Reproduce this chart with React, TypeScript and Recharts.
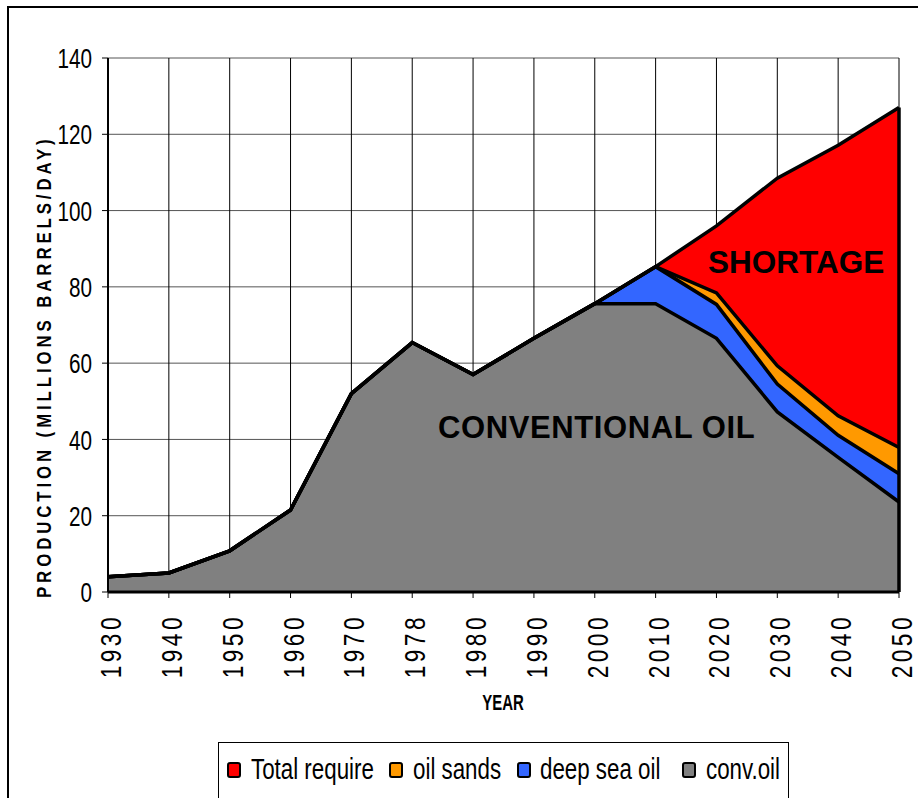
import React from 'react';
import { AreaChart, Area, XAxis, YAxis, CartesianGrid, ReferenceLine } from 'recharts';

const years = ['1930', '1940', '1950', '1960', '1970', '1978', '1980', '1990', '2000', '2010', '2020', '2030', '2040', '2050'];
const convOil = [4, 5, 10.8, 21.5, 52, 65.4, 57, 66.5, 75.6, 75.6, 66.5, 47.2, 35.3, 23.6];
const deepSeaOil = [0, 0, 0, 0, 0, 0, 0, 0, 0, 9.7, 8.9, 7.3, 5.8, 7.4];
const oilSands = [0, 0, 0, 0, 0, 0, 0, 0, 0, 0, 3, 4.8, 5.1, 6.9];
const totalRequire = [4, 5, 10.8, 21.5, 52, 65.4, 57, 66.5, 75.6, 85.3, 96, 108.5, 117.1, 127];
const yTicks = [0, 20, 40, 60, 80, 100, 120, 140];

const seriesNames = { total: 'Total require', sands: 'oil sands', deep: 'deep sea oil', conv: 'conv.oil' };
const colors = { total: '#FF0000', sands: '#FF9900', deep: '#3366FF', conv: '#808080' };
const legendOrder: Array<keyof typeof seriesNames> = ['total', 'sands', 'deep', 'conv'];
// legend layout (icon x, text x) in page pixels
const legendIconX = [227, 389, 517, 682];
const legendTextX = [251, 413, 540, 706];

const data = years.map((y, i) => ({
  year: y,
  conv: convOil[i],
  deep: deepSeaOil[i],
  sands: oilSands[i],
  total: totalRequire[i],
}));

const SANS = "'Liberation Sans', Arial, sans-serif";
const SW = 3.5;

const YTick = (props: any) => {
  const { x, y, payload } = props;
  return (
    <g transform={`translate(${x - 8}, ${y}) scale(0.74, 1)`}>
      <text x={0} y={0} dy="0.36em" textAnchor="end" fontFamily={SANS} fontSize={28} fill="#000">
        {payload.value}
      </text>
    </g>
  );
};

const XTick = (props: any) => {
  const { x, payload } = props;
  const bx = x + 13;
  const by = 614;
  return (
    <g transform={`translate(${bx}, ${by}) rotate(-90) scale(0.78, 1)`}>
      <text x={0} y={0} textAnchor="end" fontFamily={SANS} fontSize={29} letterSpacing={4.5} fill="#000">
        {payload.value}
      </text>
    </g>
  );
};

const fillArea = (key: keyof typeof colors, stack?: string) => (
  <Area
    key={`f-${key}`}
    type="linear"
    dataKey={key}
    name={seriesNames[key]}
    stackId={stack}
    fill={colors[key]}
    fillOpacity={1}
    stroke="none"
    isAnimationActive={false}
    dot={false}
    activeDot={false}
  />
);

const lineArea = (key: keyof typeof colors, stack?: string) => (
  <Area
    key={`l-${key}`}
    type="linear"
    dataKey={key}
    name={seriesNames[key]}
    stackId={stack}
    fill="none"
    fillOpacity={0}
    stroke="#000"
    strokeWidth={SW}
    strokeLinejoin="miter"
    isAnimationActive={false}
    dot={false}
    activeDot={false}
    legendType="none"
  />
);

export default function App() {
  return (
    <div style={{ position: 'relative', width: 918, height: 798, overflow: 'hidden', background: '#fff' }}>
      <style>{'body{margin:0;overflow:hidden;}'}</style>
      <div
        style={{
          position: 'absolute',
          left: 7,
          top: 6,
          width: 940,
          height: 900,
          borderTop: '2px solid #000',
          borderLeft: '2px solid #000',
          boxSizing: 'border-box',
        }}
      />
      <div style={{ position: 'absolute', left: 0, top: 0 }}>
        <AreaChart width={918} height={798} data={data} margin={{ top: 58, right: 19, left: 0, bottom: 96 }}>
          <CartesianGrid horizontal={true} vertical={false} stroke="#555" strokeWidth={1} />
          <CartesianGrid horizontal={false} vertical={true} stroke="#000" strokeWidth={1} />
          <XAxis
            dataKey="year"
            height={110}
            interval={0}
            tick={<XTick />}
            tickSize={6}
            tickLine={{ stroke: '#000', strokeWidth: 1 }}
            axisLine={{ stroke: '#000', strokeWidth: 3 }}
          />
          <YAxis
            width={108}
            domain={[0, 140]}
            ticks={yTicks}
            interval={0}
            tick={<YTick />}
            tickSize={6}
            tickLine={{ stroke: '#000', strokeWidth: 1 }}
            axisLine={{ stroke: '#000', strokeWidth: 2 }}
          />
          {fillArea('total')}
          {fillArea('conv', 'f')}
          {fillArea('deep', 'f')}
          {fillArea('sands', 'f')}
          {lineArea('total')}
          {lineArea('conv', 'l')}
          {lineArea('deep', 'l')}
          {lineArea('sands', 'l')}
          <ReferenceLine
            segment={[
              { x: years[years.length - 1], y: 0 },
              { x: years[years.length - 1], y: totalRequire[totalRequire.length - 1] },
            ]}
            stroke="#000"
            strokeWidth={SW}
          />
        </AreaChart>
      </div>
      <svg width={918} height={798} style={{ position: 'absolute', left: 0, top: 0, pointerEvents: 'none' }}>
        <g transform="translate(51, 598) rotate(-90) scale(0.8, 1)">
          <text x={0} y={0} textAnchor="start" fontFamily={SANS} fontWeight="bold" fontSize={21} letterSpacing={4.9} fill="#000">
            PRODUCTION (MILLIONS BARRELS/DAY)
          </text>
        </g>
        <g transform="translate(503, 710) scale(0.68, 1)">
          <text x={0} y={0} textAnchor="middle" fontFamily={SANS} fontWeight="bold" fontSize={22} fill="#000">
            YEAR
          </text>
        </g>
        <text x={708} y={273} fontFamily={SANS} fontWeight="bold" fontSize={31.5} fill="#000">
          SHORTAGE
        </text>
        <text x={438} y={438} fontFamily={SANS} fontWeight="bold" fontSize={31} letterSpacing={0.6} fill="#000">
          CONVENTIONAL OIL
        </text>
        <rect x={218.5} y={742.5} width={570} height={80} fill="#fff" stroke="#000" strokeWidth={1} />
        {legendOrder.map((k, i) => (
          <g key={k}>
            <rect
              x={legendIconX[i] + 1}
              y={763}
              width={12}
              height={14}
              rx={2}
              fill={colors[k]}
              stroke="#000"
              strokeWidth={2}
            />
            <g transform={`translate(${legendTextX[i]}, 779) scale(0.77, 1)`}>
              <text x={0} y={0} fontFamily={SANS} fontSize={29} fill="#000">
                {seriesNames[k]}
              </text>
            </g>
          </g>
        ))}
      </svg>
    </div>
  );
}
